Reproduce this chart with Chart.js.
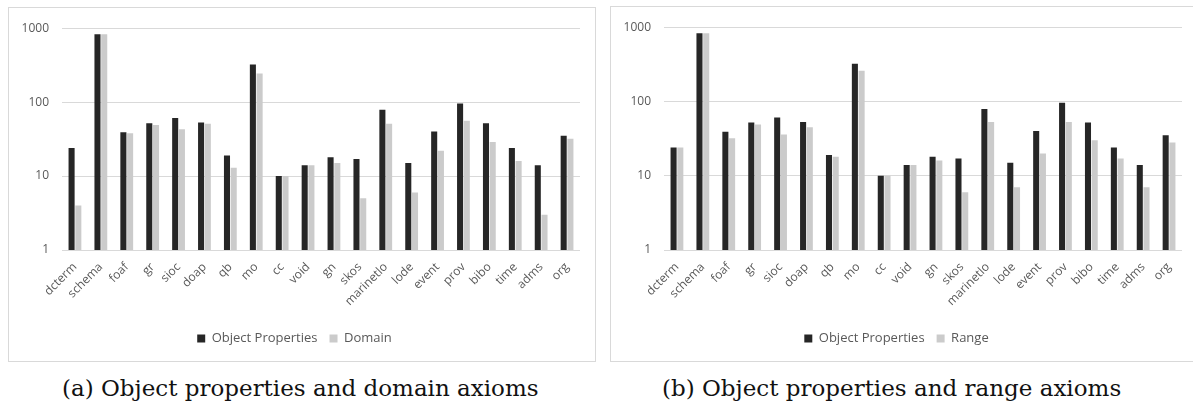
<!DOCTYPE html>
<html>
<head>
<meta charset="utf-8">
<script src="https://cdn.jsdelivr.net/npm/chart.js@4"></script>
<style>
  html, body { margin: 0; padding: 0; background: #fff; overflow: hidden; }
  body { width: 1193px; height: 407px; position: relative; }
  .box { position: absolute; border: 1px solid #d9d9d9; background: #fff; }
  .box canvas { display: block; }
  .cap { position: absolute; font-family: "DejaVu Serif", serif; font-size: 23px; color: #111; white-space: nowrap; }
</style>
</head>
<body>
<div class="box" style="left:8px; top:7px; width:586px; height:353px;"><canvas id="chartA" width="586" height="353"></canvas></div>
<div class="box" style="left:610px; top:6px; width:586px; height:354px;"><canvas id="chartB" width="586" height="354"></canvas></div>
<div class="cap" style="left:62px; top:375px;">(a) Object properties and domain axioms</div>
<div class="cap" style="left:662px; top:375px;">(b) Object properties and range axioms</div>
<script>
var categories = ['dcterm', 'schema', 'foaf', 'gr', 'sioc', 'doap', 'qb', 'mo', 'cc', 'void',
    'gn', 'skos', 'marinetlo', 'lode', 'event', 'prov', 'bibo', 'time', 'adms', 'org'];
var objectProps = [24, 830, 39, 52, 61, 53, 19, 323, 10, 14, 18, 17, 79, 15, 40, 96, 52, 24, 14, 35];
var domainVals = [4, 830, 38, 49, 43, 51, 13, 243, 10, 14, 15, 5, 51, 6, 22, 56, 29, 16, 3, 32];
var rangeVals = [24, 830, 32, 49, 36, 45, 18, 259, 10, 14, 16, 6, 53, 7, 20, 53, 30, 17, 7, 28];
var yTicks = [1, 10, 100, 1000];

var gray = '#595959';

function makeChart(id, secondLabel, secondData) {
    var ctx = document.getElementById(id);
    return new Chart(ctx, {
        type: 'bar',
        data: {
            labels: categories,
            datasets: [{
                    label: 'Object Properties',
                    data: objectProps,
                    backgroundColor: '#262626',
                    borderWidth: 0,
                    categoryPercentage: 0.52,
                    barPercentage: 0.9
                },
                {
                    label: secondLabel,
                    data: secondData,
                    backgroundColor: '#cbcbcb',
                    borderWidth: 0,
                    categoryPercentage: 0.52,
                    barPercentage: 0.9
                }
            ]
        },
        options: {
            responsive: false,
            animation: false,
            layout: {
                padding: { top: 13, right: 15, bottom: 6, left: 0 }
            },
            plugins: {
                tooltip: { enabled: false },
                legend: {
                    position: 'bottom',
                    labels: {
                        boxWidth: 8,
                        boxHeight: 8,
                        padding: 12,
                        color: gray,
                        font: { family: 'Open Sans', size: 13 }
                    }
                }
            },
            scales: {
                x: {
                    grid: { display: false },
                    border: { display: false },
                    ticks: {
                        color: gray,
                        minRotation: 45,
                        maxRotation: 45,
                        autoSkip: false,
                        padding: 2,
                        font: { family: 'Open Sans', size: 12 }
                    },
                    afterFit: function (s) { s.height = 70; }
                },
                y: {
                    type: 'logarithmic',
                    min: 1,
                    max: 1000,
                    border: { display: false },
                    grid: { color: '#d9d9d9', drawTicks: false, lineWidth: 1 },
                    afterBuildTicks: function (s) {
                        s.ticks = yTicks.map(function (v) { return { value: v }; });
                    },
                    ticks: {
                        color: gray,
                        padding: 13,
                        font: { family: 'Open Sans', size: 12 },
                        callback: function (v) { return String(v); }
                    },
                    afterFit: function (s) { s.width = 53; }
                }
            }
        }
    });
}

makeChart('chartA', 'Domain', domainVals);
makeChart('chartB', 'Range', rangeVals);
</script>
</body>
</html>
